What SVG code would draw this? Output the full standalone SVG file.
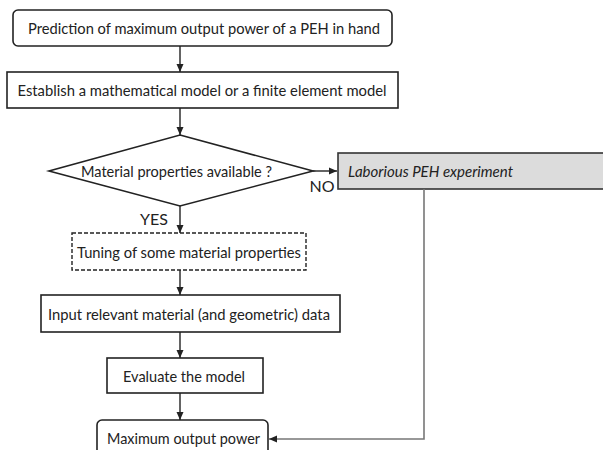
<svg xmlns="http://www.w3.org/2000/svg" width="603" height="450" viewBox="0 0 603 450">
  <defs>
    <marker id="arrow" markerWidth="9" markerHeight="9" refX="8" refY="4.5" orient="auto" markerUnits="userSpaceOnUse">
      <path d="M0,1 L8,4.5 L0,8 Z" fill="#222"/>
    </marker>
  </defs>
  <style>
    .box { fill: #fff; stroke: #222; stroke-width: 1.6; }
    .dashed { fill: #fff; stroke: #222; stroke-width: 1.4; stroke-dasharray: 4 2; }
    .grey { fill: #dcdcdc; stroke: #333; stroke-width: 1.6; }
    .lbl { font-family: Lato, "Noto Sans", sans-serif; font-size: 16px; fill: #222; text-anchor: middle; }
    .it { font-style: italic; text-anchor: start; }
    .edge { fill: none; stroke: #222; stroke-width: 1.4; }
    .edge-gray { fill: none; stroke: #777; stroke-width: 1.6; }
  </style>
  <rect width="603" height="450" fill="#fff"/>

  <g id="start">
    <rect class="box" x="13" y="10" width="379" height="36" rx="5"/>
    <text class="lbl" x="204" y="34" textLength="352" lengthAdjust="spacingAndGlyphs">Prediction of maximum output power of a PEH in hand</text>
  </g>
  <g id="establish">
    <rect class="box" x="7" y="72" width="391" height="36"/>
    <text class="lbl" x="202" y="95.5" textLength="369" lengthAdjust="spacingAndGlyphs">Establish a mathematical model or a finite element model</text>
  </g>
  <g id="decision">
    <polygon class="box" points="180,135 313,171 180,206 49,171"/>
    <text class="lbl" x="176.5" y="177" textLength="191" lengthAdjust="spacingAndGlyphs">Material properties available ?</text>
  </g>
  <g id="experiment">
    <rect class="grey" x="338" y="153" width="270" height="36"/>
    <text class="lbl it" x="348" y="177" textLength="165" lengthAdjust="spacingAndGlyphs">Laborious PEH experiment</text>
  </g>
  <g id="tuning">
    <rect class="dashed" x="72" y="233" width="234" height="37"/>
    <text class="lbl" x="189" y="257.5" textLength="224" lengthAdjust="spacingAndGlyphs">Tuning of some material properties</text>
  </g>
  <g id="input">
    <rect class="box" x="41" y="295" width="299" height="37"/>
    <text class="lbl" x="189" y="319.5" textLength="282" lengthAdjust="spacingAndGlyphs">Input relevant material (and geometric) data</text>
  </g>
  <g id="evaluate">
    <rect class="box" x="107" y="358" width="156" height="35"/>
    <text class="lbl" x="184" y="381.5" textLength="122" lengthAdjust="spacingAndGlyphs">Evaluate the model</text>
  </g>
  <g id="result">
    <rect class="box" x="97" y="420" width="171" height="40" rx="5"/>
    <text class="lbl" x="183.5" y="443.5" textLength="153" lengthAdjust="spacingAndGlyphs">Maximum output power</text>
  </g>

  <g id="connectors">
    <line class="edge" x1="180" y1="46" x2="180" y2="72" marker-end="url(#arrow)"/>
    <line class="edge" x1="180" y1="108" x2="180" y2="135" marker-end="url(#arrow)"/>
    <line class="edge" x1="313" y1="171" x2="337" y2="171" marker-end="url(#arrow)"/>
    <line class="edge" x1="180" y1="206" x2="180" y2="233" marker-end="url(#arrow)"/>
    <line class="edge" x1="180" y1="270" x2="180" y2="295" marker-end="url(#arrow)"/>
    <line class="edge" x1="180" y1="332" x2="180" y2="358" marker-end="url(#arrow)"/>
    <line class="edge" x1="180" y1="393" x2="180" y2="420" marker-end="url(#arrow)"/>
    <polyline class="edge-gray" points="424,189 424,439 269,439" marker-end="url(#arrow)"/>
    <text class="lbl" x="322" y="191.5">NO</text>
    <text class="lbl" x="154" y="224.5">YES</text>
  </g>
</svg>
